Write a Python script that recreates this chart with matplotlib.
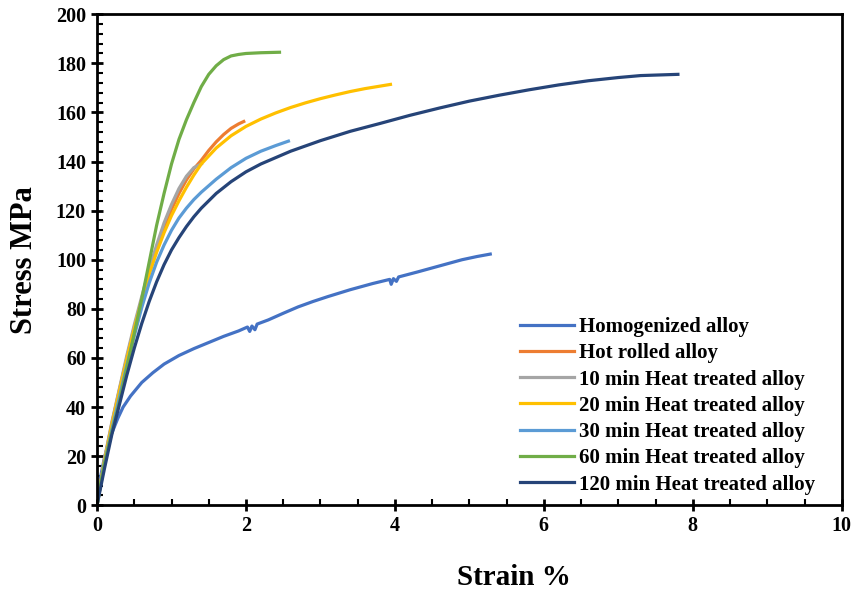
import numpy as np
import matplotlib.pyplot as plt
from matplotlib.ticker import MultipleLocator

plt.rcParams['font.family'] = ['Liberation Serif', 'DejaVu Serif']
plt.rcParams['font.weight'] = 'bold'

# Strain (%) and stress (MPa)
homog_x = [0, 0.02, 0.05, 0.1, 0.15, 0.2, 0.28, 0.35, 0.45, 0.6, 0.75, 0.9, 1.1, 1.3, 1.5, 1.7, 1.9, 2.02, 2.05,
           2.08, 2.12, 2.15, 2.3, 2.5, 2.7, 2.9, 3.1, 3.4, 3.7, 3.93, 3.95, 3.98, 4.02, 4.05, 4.3, 4.6, 4.9,
           5.1, 5.28]
homog_y = [0, 6, 12, 19.5, 25, 29.5, 35.5, 40, 44.5, 50, 54, 57.5, 61, 63.8, 66.3, 68.8, 71, 72.6, 70.8,
           73, 71.5, 73.8, 75.5, 78.2, 80.8, 83, 85, 87.8, 90.3, 92, 90, 92.3, 91.2, 93, 95, 97.5, 100,
           101.3, 102.3]

hot_x = [0, 0.1, 0.2, 0.3, 0.4, 0.5, 0.6, 0.7, 0.8, 0.9, 1.0, 1.1, 1.2, 1.3, 1.4, 1.5, 1.6, 1.7, 1.8, 1.9, 1.97]
hot_y = [0, 18.5, 33.5, 47, 60, 72.5, 84, 95, 104.5, 113, 120.5, 127, 132.5, 137, 140.5, 144.5, 148, 151,
         153.5, 155.3, 156.3]

h10_x = [0, 0.1, 0.2, 0.3, 0.4, 0.5, 0.6, 0.7, 0.8, 0.9, 1.0, 1.1, 1.2, 1.3, 1.4]
h10_y = [0, 19, 34, 47.5, 61, 73.5, 85, 96, 106, 115, 122.5, 129, 134, 137.5, 139]

h20_x = [0, 0.1, 0.2, 0.3, 0.4, 0.5, 0.6, 0.7, 0.8, 0.9, 1.0, 1.1, 1.2, 1.3, 1.4, 1.6, 1.8, 2.0, 2.2, 2.4,
         2.6, 2.8, 3.0, 3.2, 3.4, 3.6, 3.8, 3.94]
h20_y = [0, 18, 33, 46.5, 59.5, 72, 83.5, 94, 103, 111, 118, 124, 129.5, 134.5, 139, 145.5, 150.5, 154.3,
         157.3, 159.8, 162, 163.9, 165.6, 167.1, 168.5, 169.7, 170.7, 171.4]

h30_x = [0, 0.1, 0.2, 0.3, 0.4, 0.5, 0.6, 0.7, 0.8, 0.9, 1.0, 1.1, 1.2, 1.3, 1.4, 1.6, 1.8, 2.0, 2.2, 2.4, 2.57]
h30_y = [0, 17, 31, 44, 57, 69, 80.5, 90.5, 99, 106, 112, 117, 121, 124.5, 127.5, 132.8, 137.5, 141.3,
         144.2, 146.5, 148.3]

h60_x = [0, 0.05, 0.1, 0.2, 0.3, 0.4, 0.5, 0.6, 0.7, 0.8, 0.9, 1.0, 1.1, 1.2, 1.3, 1.4, 1.5, 1.6, 1.7, 1.8,
         1.9, 2.0, 2.2, 2.45]
h60_y = [0, 9, 17, 30, 42, 56, 70, 84, 99, 114, 127, 139, 149, 157, 164, 170.5, 175.5, 179, 181.5, 183,
         183.6, 184, 184.3, 184.5]

h120_x = [0, 0.1, 0.2, 0.3, 0.4, 0.5, 0.6, 0.7, 0.8, 0.9, 1.0, 1.1, 1.2, 1.3, 1.4, 1.6, 1.8, 2.0, 2.2, 2.6,
          3.0, 3.4, 3.8, 4.2, 4.6, 5.0, 5.4, 5.8, 6.2, 6.6, 7.0, 7.3, 7.6, 7.8]
h120_y = [0, 15, 29, 41, 53, 64, 74, 83, 91, 98, 104, 109, 113.5, 117.5, 121, 127, 131.8, 135.8, 139, 144.2,
          148.5, 152.3, 155.5, 158.8, 161.8, 164.6, 167, 169.2, 171.2, 172.9, 174.2, 175, 175.3, 175.5]

fig = plt.figure(figsize=(8.55, 5.91), dpi=100)
ax = fig.add_axes([0.1135, 0.145, 0.871, 0.831])

lw = 2.3
ax.plot(homog_x, homog_y, color='#4472C4', lw=lw, label='Homogenized alloy')
ax.plot(hot_x, hot_y, color='#ED7D31', lw=lw, label='Hot rolled alloy')
ax.plot(h10_x, h10_y, color='#A5A5A5', lw=lw, label='10 min Heat treated alloy')
ax.plot(h20_x, h20_y, color='#FFC000', lw=lw, label='20 min Heat treated alloy')
ax.plot(h30_x, h30_y, color='#5B9BD5', lw=lw, label='30 min Heat treated alloy')
ax.plot(h60_x, h60_y, color='#70AD47', lw=lw, label='60 min Heat treated alloy')
ax.plot(h120_x, h120_y, color='#264478', lw=lw, label='120 min Heat treated alloy')

ax.set_xlim(0, 10)
ax.set_ylim(0, 200)
ax.xaxis.set_major_locator(MultipleLocator(2))
ax.xaxis.set_minor_locator(MultipleLocator(0.5))
ax.yaxis.set_major_locator(MultipleLocator(20))
ax.yaxis.set_minor_locator(MultipleLocator(4))
ax.tick_params(which='major', direction='inout', length=8, width=2, labelsize=14.5, pad=4)
ax.tick_params(which='minor', direction='in', length=4, width=1.5)
for s in ax.spines.values():
    s.set_linewidth(2)

ax.set_xlabel('Strain %', fontsize=21, fontweight='bold', labelpad=20, x=0.56)
ax.set_ylabel('Stress MPa', fontsize=22, fontweight='bold', labelpad=12)

ax.legend(loc='lower left', bbox_to_anchor=(0.5685, 0.022), frameon=False, fontsize=15,
          handlelength=2.55, labelspacing=0.3, handletextpad=0.25, borderpad=0, borderaxespad=0)

plt.savefig('out.png', dpi=100)
